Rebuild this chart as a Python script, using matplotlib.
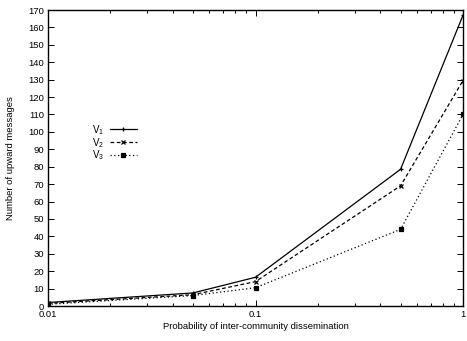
import matplotlib
matplotlib.use("Agg")
import matplotlib.pyplot as plt
from matplotlib.ticker import MultipleLocator, FixedLocator, LogLocator, NullFormatter

plt.rcParams["font.family"] = ["Liberation Sans", "DejaVu Sans"]
plt.rcParams["mathtext.default"] = "regular"

prob = [0.01, 0.05, 0.1, 0.5, 1.0]
v1 = [2.0, 7.5, 16.5, 78.5, 167.0]
v2 = [1.5, 6.5, 14.0, 69.0, 129.5]
v3 = [1.0, 6.0, 10.5, 44.0, 110.0]
labels = ["V$_1$", "V$_2$", "V$_3$"]

fig = plt.figure(figsize=(4.67, 3.41), dpi=100)
ax = fig.add_axes([48 / 467, 35 / 341, 415 / 467, 296 / 341])

ax.plot(prob, v1, color="black", lw=0.9, ls="-", marker="+", ms=3.5, mew=0.9, label=labels[0])
ax.plot(prob, v2, color="black", lw=0.9, ls=(0, (3, 2)), marker="x", ms=3.5, mew=0.9, label=labels[1])
ax.plot(prob, v3, color="black", lw=0.9, ls=(0, (1, 2)), marker="s", ms=2.5, mew=0.9, label=labels[2])

ax.set_xscale("log")
ax.set_xlim(0.01, 1)
ax.set_ylim(0, 170)
ax.yaxis.set_major_locator(MultipleLocator(10))
ax.xaxis.set_major_locator(FixedLocator([0.01, 0.1, 1]))
ax.xaxis.set_minor_locator(LogLocator(base=10, subs=range(2, 10)))
ax.xaxis.set_minor_formatter(NullFormatter())
ax.set_xticklabels(["0.01", "0.1", "1"])

ax.tick_params(which="both", direction="in", top=True, right=True, labelsize=6.8, width=0.7)
ax.tick_params(which="major", length=4, pad=3)
ax.tick_params(which="minor", length=2)
for s in ax.spines.values():
    s.set_linewidth(1.0)

ax.set_xlabel("Probability of inter-community dissemination", fontsize=6.8, labelpad=2)
ax.set_ylabel("Number of upward messages", fontsize=6.8, labelpad=9)

ax.legend(loc="upper left", bbox_to_anchor=(0.094, 0.635), frameon=False, markerfirst=False,
          fontsize=7, handlelength=2.8, handletextpad=0.6, labelspacing=-0.1, borderpad=0)

fig.savefig("out.png", dpi=100)
